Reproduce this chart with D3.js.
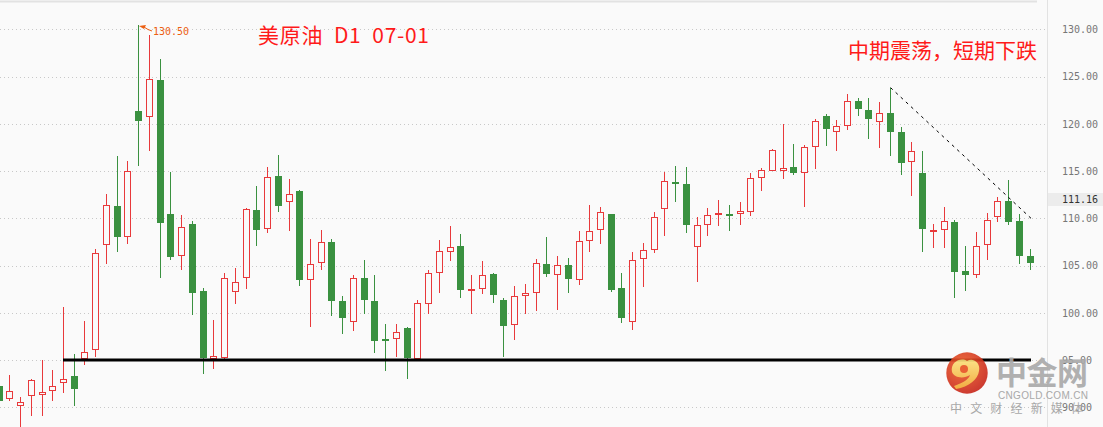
<!DOCTYPE html>
<html>
<head>
<meta charset="utf-8">
<script src="https://cdn.jsdelivr.net/npm/d3@7"></script>
<style>
    html, body { margin: 0; padding: 0; background: #fafafa; }
    svg { display: block; }
</style>
</head>
<body>
<div id="chart"></div>
<script>
// 美原油 D1 日线
var opens  = [92.26, 90.85, 90.11, 91.24, 91.27, 91.69, 92.54, 93.32, 95.08, 96.03,
              107.14, 111.27, 107.99, 121.36, 120.69, 124.64, 110.46, 105.98, 109.40, 102.31,
              95.11, 95.26, 102.17, 103.65, 110.85, 108.84, 114.48, 111.69, 112.89, 103.44,
              105.24, 107.50, 101.25, 98.99, 103.69, 101.25, 97.22, 97.20, 98.36, 95.15,
              100.90, 104.18, 106.40, 107.04, 102.40, 102.49, 104.07, 101.36, 98.71, 101.75,
              102.06, 105.13, 103.97, 105.03, 103.44, 107.57, 108.73, 110.46, 102.63, 98.99,
              105.66, 106.61, 110.95, 113.84, 113.63, 106.93, 109.26, 110.49, 110.42, 110.42,
              110.64, 114.23, 114.97, 114.97, 115.40, 114.76, 117.51, 120.79, 119.10, 119.74,
              122.38, 121.46, 120.16, 121.15, 119.14, 115.93, 114.80, 108.73, 108.77, 109.65,
              104.39, 103.97, 107.21, 110.18, 111.87, 109.72, 105.98];
var highs  = [92.50, 93.42, 91.06, 93.00, 95.01, 93.95, 100.62, 95.64, 99.14, 106.75,
              112.58, 116.60, 116.03, 130.50, 129.40, 126.86, 114.90, 110.35, 109.75, 102.66,
              99.24, 104.21, 104.74, 111.13, 113.42, 115.47, 116.70, 114.16, 113.00, 107.81,
              108.77, 107.81, 101.78, 103.97, 105.59, 103.97, 98.82, 98.82, 98.47, 101.36,
              104.53, 107.71, 109.19, 108.34, 103.97, 105.48, 104.25, 101.57, 102.84, 103.05,
              105.70, 108.02, 106.01, 105.80, 108.66, 111.41, 111.20, 110.50, 104.21, 106.40,
              107.35, 110.64, 114.94, 115.54, 115.43, 110.11, 111.09, 111.94, 111.41, 111.73,
              114.80, 115.33, 117.34, 119.98, 117.87, 117.72, 120.51, 121.01, 120.41, 123.12,
              122.73, 122.73, 122.31, 123.83, 119.70, 118.08, 117.13, 109.40, 111.16, 109.82,
              107.07, 108.55, 110.60, 112.22, 114.06, 110.46, 106.76];
var lows   = [90.40, 90.71, 87.95, 89.12, 89.12, 90.71, 91.55, 90.18, 94.51, 95.36,
              105.20, 106.47, 107.32, 115.57, 117.16, 103.72, 105.63, 104.57, 99.81, 93.56,
              94.09, 95.08, 100.97, 102.52, 107.11, 108.48, 110.71, 108.69, 102.87, 98.54,
              104.57, 99.70, 97.80, 98.11, 99.91, 95.78, 93.88, 95.36, 93.03, 95.05,
              99.91, 102.13, 105.52, 101.60, 99.91, 101.99, 101.08, 95.36, 97.16, 99.91,
              100.23, 103.83, 100.34, 102.13, 102.98, 106.47, 107.32, 102.24, 98.96, 98.22,
              102.77, 106.37, 108.17, 111.76, 108.48, 103.30, 108.17, 109.22, 108.69, 109.33,
              110.28, 112.93, 114.97, 114.20, 114.62, 111.23, 115.22, 117.69, 117.16, 119.38,
              120.83, 118.39, 117.48, 116.63, 114.62, 112.40, 106.47, 106.90, 106.90, 101.60,
              102.35, 103.69, 105.63, 109.65, 109.33, 105.17, 104.53];
var closes = [90.71, 91.69, 90.53, 92.86, 91.59, 92.22, 92.96, 91.98, 95.82, 106.30,
              111.38, 108.06, 114.97, 120.34, 124.71, 109.54, 105.94, 109.05, 102.13, 95.26,
              95.40, 103.69, 103.23, 110.99, 108.80, 114.34, 111.34, 112.54, 103.51, 105.13,
              107.46, 101.29, 99.49, 103.65, 101.39, 97.05, 97.14, 97.94, 95.26, 101.00,
              104.18, 106.51, 107.00, 102.45, 102.48, 103.97, 101.85, 98.64, 101.78, 102.06,
              105.24, 104.14, 105.03, 103.62, 107.57, 108.66, 110.64, 102.45, 99.49, 105.56,
              106.61, 110.11, 113.92, 113.67, 109.33, 109.26, 110.32, 110.56, 110.28, 110.74,
              114.23, 115.08, 117.20, 115.29, 114.83, 117.51, 120.26, 119.49, 119.74, 122.38,
              121.53, 120.55, 121.11, 119.17, 115.89, 117.13, 108.91, 108.80, 109.68, 104.36,
              104.04, 107.04, 109.79, 111.80, 109.65, 106.01, 105.27];

var yTicks = [90, 95, 100, 105, 110, 115, 120, 125, 130];
var support = 95;              // 支撑线
var trendFrom = 83, trendTo = 96, trendEndValue = 110.0;   // 下降趋势线
var lastPrice = 111.16;
var peakIndex = 13;

var width = 1103, height = 427;
var colors = {
    bg: '#fafafa',
    up: '#e8393b',
    down: '#3a9140',
    grid: '#c8c8c8',
    axisText: '#777777',
    border: '#e2e2e2',
    title: '#ff1a1a',
    mark: '#ec5f12'
};

var svg = d3.select('#chart').append('svg')
    .attr('width', width)
    .attr('height', height);

svg.append('rect').attr('width', width).attr('height', height).attr('fill', colors.bg);

var x = d3.scaleLinear().domain([0, opens.length - 1]).range([-1.44, 1029.6]);
var y = d3.scaleLinear().domain([90, 130]).range([407.3, 29.3]);
function px(i) { return Math.round(x(i)); }
function py(v) { return Math.round(y(v)); }

// 网格
svg.append('g').selectAll('line')
    .data(yTicks)
    .enter().append('line')
    .attr('x1', 0).attr('x2', 1046)
    .attr('y1', function (d) { return py(d) + 0.5; })
    .attr('y2', function (d) { return py(d) + 0.5; })
    .attr('stroke', colors.grid)
    .attr('stroke-dasharray', '1,3');

// 边框
svg.append('line').attr('x1', 0).attr('x2', 1037).attr('y1', 1.5).attr('y2', 1.5)
    .attr('stroke', colors.border).attr('stroke-width', 2);
svg.append('line').attr('x1', 1047.5).attr('x2', 1047.5).attr('y1', 0).attr('y2', height)
    .attr('stroke', colors.border);

// 价格轴
var axis = d3.axisRight(y).tickValues(yTicks).tickFormat(d3.format('.2f')).tickSize(0).tickPadding(0);
var gAxis = svg.append('g').attr('transform', 'translate(1062,0)').call(axis);
gAxis.select('.domain').remove();
gAxis.selectAll('text')
    .attr('fill', colors.axisText)
    .style('font-family', '"DejaVu Sans Mono", monospace')
    .style('font-size', '10px');

// 当前价
var gPrice = svg.append('g');
gPrice.append('rect')
    .attr('x', 1048).attr('y', py(lastPrice) - 14).attr('width', 55).attr('height', 13)
    .attr('fill', '#ececec');
gPrice.append('text')
    .attr('x', 1062).attr('y', py(lastPrice) - 7.5)
    .attr('dy', '0.35em')
    .attr('fill', '#333')
    .style('font-family', '"DejaVu Sans Mono", monospace')
    .style('font-size', '10px')
    .text(d3.format('.2f')(lastPrice));

// K线
var candles = d3.range(opens.length);
var gK = svg.append('g');
candles.forEach(function (i) {
    var up = closes[i] >= opens[i];
    var c = up ? colors.up : colors.down;
    var cx = px(i);
    var top = py(Math.max(opens[i], closes[i]));
    var bot = py(Math.min(opens[i], closes[i]));
    gK.append('line')
        .attr('x1', cx + 0.5).attr('x2', cx + 0.5)
        .attr('y1', py(highs[i])).attr('y2', py(lows[i]))
        .attr('stroke', c);
    if (bot - top < 2) {
        gK.append('rect')
            .attr('x', cx - 3).attr('y', top).attr('width', 7).attr('height', Math.max(2, bot - top))
            .attr('fill', c);
    } else if (up) {
        gK.append('rect')
            .attr('x', cx - 2.5).attr('y', top + 0.5).attr('width', 6).attr('height', bot - top - 1)
            .attr('fill', colors.bg)
            .attr('stroke', c);
    } else {
        gK.append('rect')
            .attr('x', cx - 3).attr('y', top).attr('width', 7).attr('height', bot - top)
            .attr('fill', c);
    }
});

// 支撑线
svg.append('line')
    .attr('x1', px(6)).attr('x2', px(opens.length - 1) + 1)
    .attr('y1', y(support)).attr('y2', y(support))
    .attr('stroke', '#000').attr('stroke-width', 3);

// 趋势线
svg.append('line')
    .attr('x1', px(trendFrom) + 0.5).attr('y1', y(highs[trendFrom]))
    .attr('x2', px(trendTo) + 1).attr('y2', y(trendEndValue))
    .attr('stroke', '#000').attr('stroke-width', 1)
    .attr('stroke-dasharray', '3,4');

// 最高价标注
var hx = px(peakIndex) + 1, hy = py(highs[peakIndex]);
var gMark = svg.append('g');
gMark.append('path')
    .attr('d', 'M' + hx + ',' + (hy + 1) + 'L' + (hx + 7) + ',' + (hy) + 'L' + (hx + 5) + ',' + (hy + 4) + 'Z')
    .attr('fill', colors.mark);
gMark.append('path')
    .attr('d', 'M' + (hx + 5) + ',' + (hy + 2) + 'Q' + (hx + 9) + ',' + (hy + 5) + ' ' + (hx + 13) + ',' + (hy + 6))
    .attr('fill', 'none').attr('stroke', colors.mark);
gMark.append('text')
    .attr('x', hx + 14).attr('y', hy + 6)
    .attr('dy', '0.35em')
    .attr('fill', colors.mark)
    .style('font-family', '"DejaVu Sans Mono", monospace')
    .style('font-size', '10px')
    .text(d3.format('.2f')(highs[peakIndex]));

// 标题
svg.append('text')
    .attr('x', 258).attr('y', 36).attr('dy', '0.35em')
    .attr('fill', colors.title)
    .style('font-family', '"Noto Sans CJK SC", sans-serif')
    .style('font-size', '21px')
    .attr('textLength', 171)
    .text('美原油\u00a0\u00a0D1\u00a0\u00a007-01');
svg.append('text')
    .attr('x', 848).attr('y', 50.5).attr('dy', '0.35em')
    .attr('fill', colors.title)
    .style('font-family', '"Noto Sans CJK SC", sans-serif')
    .style('font-size', '21px')
    .text('中期震荡，短期下跌');

// 水印
var wm = svg.append('g').attr('opacity', 0.9);
var defs = svg.append('defs');
var rg = defs.append('radialGradient').attr('id', 'logoGrad').attr('cx', '40%').attr('cy', '35%').attr('r', '70%');
rg.append('stop').attr('offset', '0%').attr('stop-color', '#f0622a');
rg.append('stop').attr('offset', '100%').attr('stop-color', '#c6231a');
var yg = defs.append('linearGradient').attr('id', 'swirlGrad').attr('x1', '0').attr('y1', '0').attr('x2', '0').attr('y2', '1');
yg.append('stop').attr('offset', '0%').attr('stop-color', '#fbe07a');
yg.append('stop').attr('offset', '100%').attr('stop-color', '#f2a32e');
var logo = wm.append('g').attr('transform', 'translate(967,373)');
logo.append('circle').attr('r', 20.7).attr('fill', 'url(#logoGrad)');
logo.append('path')
    .attr('d', 'M-15,-1 C-17,-11 -6,-16 0,-12 C6,-16 14,-10 12,-2 C11,6 2,14 -11,16 L-13,13 C-4,10 2,6 3,2 C-3,6 -13,5 -15,-1 Z')
    .attr('fill', 'url(#swirlGrad)');
logo.append('circle').attr('cx', -3).attr('cy', -4).attr('r', 4).attr('fill', '#e8501f');
wm.append('text')
    .attr('x', 996).attr('y', 373).attr('dy', '0.35em')
    .attr('fill', '#a9a9a9')
    .style('font-family', '"Noto Sans CJK SC", sans-serif')
    .style('font-weight', 'bold')
    .style('font-size', '31px')
    .attr('textLength', 92)
    .text('中金网');
wm.append('text')
    .attr('x', 998).attr('y', 395).attr('dy', '0.35em')
    .attr('fill', '#a0a0a0')
    .style('font-family', '"Liberation Sans", Arial, sans-serif')
    .style('font-size', '10px')
    .attr('textLength', 90)
    .text('CNGOLD.COM.CN');
wm.append('text')
    .attr('x', 950).attr('y', 409).attr('dy', '0.35em')
    .attr('fill', '#a0a0a0')
    .style('font-family', '"Noto Sans CJK SC", sans-serif')
    .style('font-size', '12px')
    .attr('textLength', 133)
    .text('中文财经新媒体');
</script>
</body>
</html>
